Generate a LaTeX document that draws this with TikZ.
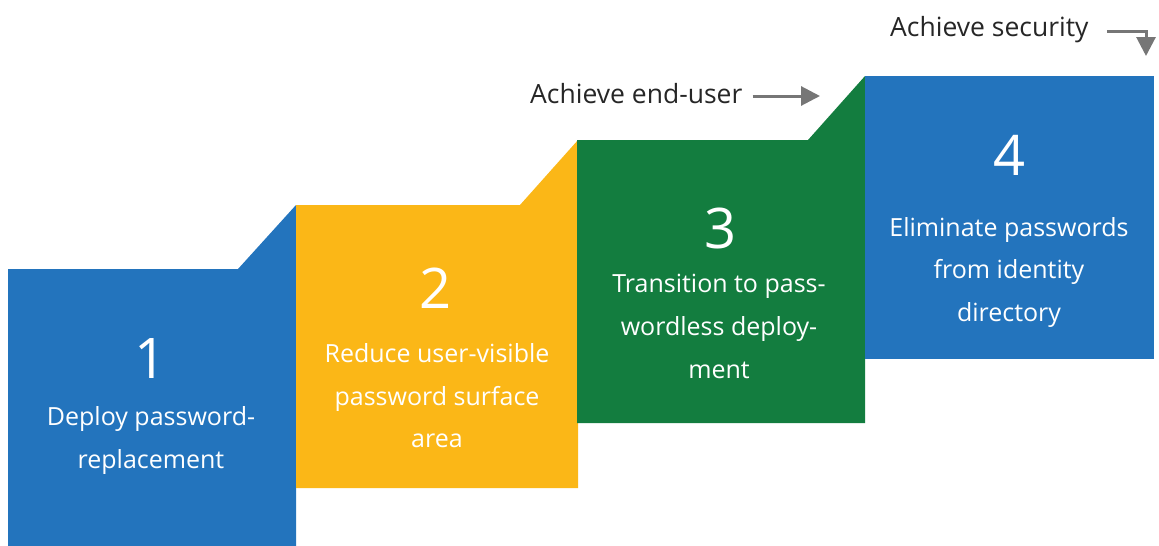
\documentclass[tikz,border=0pt]{standalone}
\usepackage{fontspec}
\setmainfont{Open Sans}
\usetikzlibrary{arrows.meta}
\definecolor{mblue}{RGB}{35,116,189}
\definecolor{myellow}{RGB}{251,183,23}
\definecolor{mgreen}{RGB}{19,125,63}
\definecolor{arrgray}{RGB}{118,118,118}
\definecolor{labgray}{RGB}{38,38,38}
\tikzset{
  numtxt/.style={text=white, font=\fontsize{56}{60}\selectfont, inner sep=0pt},
  bodytxt/.style={text=white, font=\fontsize{25}{42.8}\selectfont, align=center, inner sep=0pt, anchor=north},
  labtxt/.style={text=labgray, font=\fontsize{26.5}{30}\selectfont, inner sep=0pt, anchor=west},
  arr/.style={draw=arrgray, line width=3pt, -{Triangle[length=19pt,width=19pt]}}
}
\begin{document}
\begin{tikzpicture}[x=1pt,y=-1pt]
\useasboundingbox (0,0) rectangle (1159,546);
% blocks
\fill[mblue] (8,546) -- (8,269) -- (238,269) -- (296,205) -- (296,546) -- cycle;
\fill[myellow] (296,488) -- (296,205) -- (520,205) -- (578,140) -- (578,488) -- cycle;
\fill[mgreen] (577,423) -- (577,140) -- (808,140) -- (865,76) -- (865,423) -- cycle;
\fill[mblue] (865,359) -- (865,76) -- (1154,76) -- (1154,359) -- cycle;
% numbers
\node[numtxt] (n1) at (151,359) {1};
\node[numtxt] (n2) at (436,288) {2};
\node[numtxt] (n3) at (721,228) {3};
\node[numtxt] (n4) at (1009,155) {4};
% texts
\node[bodytxt] (t1) at (151,406) {Deploy password-\\replacement};
\node[bodytxt] (t2) at (437,343) {Reduce user-visible\\password surface\\area};
\node[bodytxt] (t3) at (719,274) {Transition to pass-\\wordless deploy-\\ment};
\node[bodytxt] (t4) at (1009,217) {Eliminate passwords\\from identity\\directory};
% labels and arrows
\node[labtxt] (l1) at (530,94) {Achieve end-user};
\node[labtxt] (l2) at (890,30) {Achieve security};
\coordinate (e1) at (820,96);
\coordinate (e2) at (1146,56);
\draw[arr] ([xshift=10pt]l1.east |- e1) -- (e1);
\draw[arr] ([xshift=18pt,yshift=-1pt]l2.east) -| (e2);
\end{tikzpicture}
\end{document}
